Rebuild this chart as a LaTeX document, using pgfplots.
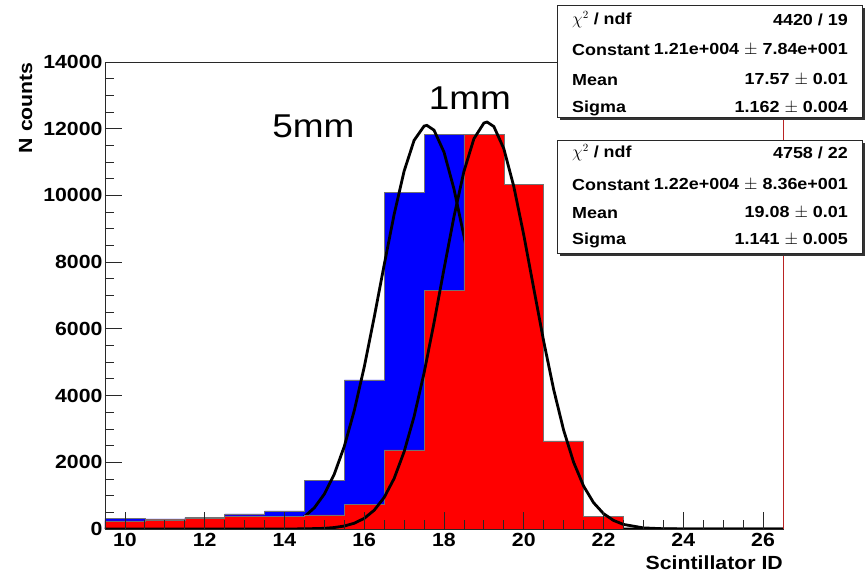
\documentclass[border=0pt]{standalone}
\usepackage{fontspec}
\setmainfont{Liberation Sans}[FakeStretch=1.12]
\usepackage{pgfplots}
\pgfplotsset{compat=1.18}
\definecolor{frame}{RGB}{40,40,40}
\definecolor{rootred}{RGB}{185,35,35}
\definecolor{histblue}{RGB}{0,0,255}
\definecolor{histred}{RGB}{255,0,0}
\begin{document}
\begin{tikzpicture}
\useasboundingbox (-105pt,-51pt) rectangle (762pt,529pt);
\begin{axis}[
  at={(0pt,0pt)}, anchor=south west,
  scale only axis, width=678pt, height=467pt,
  xmin=9.5, xmax=26.5, ymin=0, ymax=14000,
  xtick={10,12,...,26}, ytick={0,2000,...,14000},
  minor x tick num=3, minor y tick num=3,
  tick pos=left, tick align=inside,
  major tick length=17pt, minor tick length=9pt,
  scaled y ticks=false,
  /pgf/number format/assume math mode=true,
  /pgf/number format/set thousands separator={},
  tick label style={font=\bfseries\fontsize{19}{21}\selectfont},
  yticklabel style={xshift=1pt},
  xticklabel style={yshift=-1pt},
  axis line style={frame, line width=0.8pt},
  tick style={frame, line width=0.8pt},
  axis on top,
  xlabel={Scintillator ID},
  xlabel style={at={(axis description cs:1,0)}, anchor=north east, yshift=-27pt, inner sep=0pt, font=\bfseries\fontsize{19}{21}\selectfont},
  ylabel={N counts},
  ylabel style={at={(axis description cs:-0.117,1)}, anchor=east, inner sep=0pt, font=\bfseries\fontsize{19}{21}\selectfont},
]
% 5mm histogram
\addplot[const plot mark left, fill=histblue, draw=black!55, line width=0.5pt] coordinates {
(9.5,320)(10.5,300)(11.5,350)(12.5,450)(13.5,540)(14.5,1450)(15.5,4470)(16.5,10090)(17.5,11840)(18.5,5500)(19.5,1300)(20.5,150)(21.5,20)(22.5,0)
} \closedcycle;
% 5mm fit
\addplot[black, line width=2.8pt] coordinates {
(9.5,0)(12.5,1)(13,5)(13.5,26)(13.75,54)(14,108)(14.25,204)(14.5,369)(14.75,637)(15,1048)(15.25,1649)(15.5,2476)(15.75,3549)(16,4857)(16.25,6348)(16.5,7918)(16.75,9433)(17,10729)(17.25,11650)(17.5,12078)(17.57,12100)(17.75,11956)(18,11299)(18.25,10195)(18.5,8784)(18.75,7226)(19,5675)(19.25,4256)(19.5,3046)(19.75,2082)(20,1359)(20.25,847)(20.5,504)(21,155)(21.5,40)(22,8)(22.5,1)(26.5,0)
};
% 1mm histogram
\addplot[const plot mark left, fill=histred, draw=black!55, line width=0.5pt] coordinates {
(9.5,240)(10.5,270)(11.5,320)(12.5,390)(13.5,370)(14.5,420)(15.5,740)(16.5,2370)(17.5,7150)(18.5,11840)(19.5,10320)(20.5,2640)(21.5,370)(22.5,0)
} \closedcycle;
% 1mm fit
\addplot[black, line width=2.8pt] coordinates {
(9.5,0)(14,1)(14.5,4)(15,20)(15.25,44)(15.5,89)(15.75,173)(16,319)(16.25,563)(16.5,946)(16.75,1516)(17,2316)(17.25,3371)(17.5,4676)(17.75,6184)(18,7795)(18.25,9364)(18.5,10721)(18.75,11700)(19,12170)(19.08,12200)(19.25,12065)(19.5,11401)(19.75,10268)(20,8815)(20.25,7213)(20.5,5624)(20.75,4180)(21,2961)(21.25,2000)(21.5,1287)(21.75,789)(22,461)(22.25,257)(22.5,137)(23,33)(23.5,7)(24,1)(26.5,0)
};
\node[font=\fontsize{33}{36}\selectfont] at (axis cs:14.725,12060) {5mm};
\node[font=\fontsize{33}{36}\selectfont] at (axis cs:18.65,12930) {1mm};
\end{axis}
% right frame (red)
\draw[rootred, line width=1pt] (678pt,0pt) -- (678pt,467pt);
% stat box 1
\fill[black!80] (455pt,409pt) rectangle (760pt,521pt);
\draw[frame, fill=white, line width=0.8pt] (452pt,412pt) rectangle (757pt,524pt);
\begin{scope}[every node/.style={font=\bfseries\fontsize{16}{18}\selectfont, inner sep=0pt}]
\node[anchor=west] at (467pt,509pt) {$\chi^{2}$ / ndf};
\node[anchor=east] at (743pt,509pt) {4420 / 19};
\node[anchor=west] at (467pt,479pt) {Constant};
\node[anchor=east] at (743pt,479pt) {1.21e+004 $\pm$ 7.84e+001};
\node[anchor=west] at (467pt,449pt) {Mean};
\node[anchor=east] at (743pt,449pt) {17.57 $\pm$ 0.01};
\node[anchor=west] at (467pt,421pt) {Sigma};
\node[anchor=east] at (743pt,421pt) {1.162 $\pm$ 0.004};
\end{scope}
% stat box 2
\fill[black!80] (455pt,273pt) rectangle (760pt,386pt);
\draw[frame, fill=white, line width=0.8pt] (452pt,276pt) rectangle (757pt,389pt);
\begin{scope}[every node/.style={font=\bfseries\fontsize{16}{18}\selectfont, inner sep=0pt}]
\node[anchor=west] at (467pt,376pt) {$\chi^{2}$ / ndf};
\node[anchor=east] at (743pt,376pt) {4758 / 22};
\node[anchor=west] at (467pt,344pt) {Constant};
\node[anchor=east] at (743pt,344pt) {1.22e+004 $\pm$ 8.36e+001};
\node[anchor=west] at (467pt,316pt) {Mean};
\node[anchor=east] at (743pt,316pt) {19.08 $\pm$ 0.01};
\node[anchor=west] at (467pt,289pt) {Sigma};
\node[anchor=east] at (743pt,289pt) {1.141 $\pm$ 0.005};
\end{scope}
\end{tikzpicture}
\end{document}
